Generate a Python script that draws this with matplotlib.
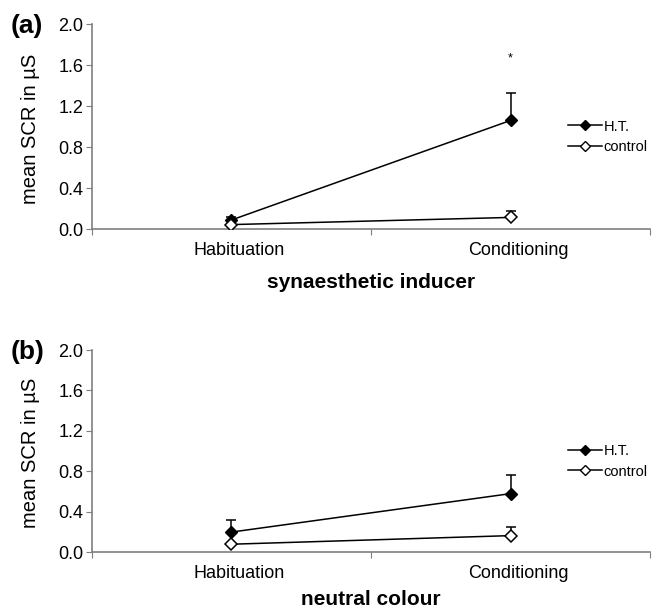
import matplotlib.pyplot as plt
from matplotlib.lines import Line2D

plt.rcParams['font.family'] = ['Liberation Sans', 'DejaVu Sans']

categories = ['Habituation', 'Conditioning']
groups = ['H.T.', 'control']

# panel (a) synaesthetic inducer
a_ht = [0.09, 1.06]
a_ht_err = [0.03, 0.27]
a_ctrl = [0.045, 0.115]
a_ctrl_err = [0.01, 0.065]

# panel (b) neutral colour
b_ht = [0.20, 0.58]
b_ht_err = [0.12, 0.18]
b_ctrl = [0.08, 0.165]
b_ctrl_err = [0.0, 0.085]

yticks = [0.0, 0.4, 0.8, 1.2, 1.6, 2.0]
grey = '#7f7f7f'

fig = plt.figure(figsize=(6.52, 6.08), dpi=100)


def panel(rect, ht, ht_err, ctrl, ctrl_err, letter, xlabel, star=None, leg_y=0.45, xlpad=6):
    ax = fig.add_axes(rect)
    x = [0.5, 1.5]
    ax.errorbar(x, ht, yerr=[[0, 0], ht_err], color='k', lw=1.1, marker='D', ms=6.5,
                mfc='k', mec='k', capsize=3.5, elinewidth=1.1, capthick=1.1, label=groups[0], zorder=3)
    ax.errorbar(x, ctrl, yerr=[[0, 0], ctrl_err], color='k', lw=1.1, marker='D', ms=6.5,
                mfc='white', mec='k', mew=1.1, capsize=3.5, elinewidth=1.1, capthick=1.1, label=groups[1], zorder=3)
    if star is not None:
        ax.text(1.5, star, '*', ha='center', va='center', fontsize=9)
    ax.set_xlim(0, 2)
    ax.set_ylim(0, 2.0)
    ax.set_yticks(yticks)
    ax.set_yticklabels(['%.1f' % v for v in yticks], fontsize=13)
    ax.set_xticks([0, 1, 2])
    ax.set_xticklabels([])
    # category labels sit a little right of the points
    ax.set_xticks([v + 0.027 for v in x], minor=True)
    ax.set_xticklabels(categories, minor=True, fontsize=13)
    ax.tick_params(axis='x', which='minor', length=0, pad=9)
    ax.tick_params(axis='x', which='major', length=4, color=grey)
    ax.tick_params(axis='y', length=4, color=grey, pad=2)
    for s in ['top', 'right']:
        ax.spines[s].set_visible(False)
    for s in ['left', 'bottom']:
        ax.spines[s].set_color(grey)
        ax.spines[s].set_linewidth(1.2)
    ax.set_ylabel('mean SCR in \u00b5S', fontsize=14.5)
    ax.yaxis.set_label_coords(-0.093, 0.49)
    ax.set_xlabel(xlabel, fontsize=15, fontweight='bold', labelpad=xlpad)
    handles = [Line2D([], [], color='k', lw=1.1, marker='D', ms=5, mfc='k', mec='k'),
               Line2D([], [], color='k', lw=1.1, marker='D', ms=5, mfc='white', mec='k')]
    ax.legend(handles, groups, loc='center left', bbox_to_anchor=(0.853, leg_y), frameon=False,
              fontsize=10.5, borderpad=0, borderaxespad=0, handlelength=2.3, handletextpad=0.15,
              labelspacing=0.45)
    pos = ax.get_position()
    fig.text(0.016, pos.y1 - 0.003, letter, fontsize=19, fontweight='bold', va='center', ha='left')
    return ax


panel([0.141, 0.623, 0.856, 0.3375], a_ht, a_ht_err, a_ctrl, a_ctrl_err, '(a)',
      'synaesthetic inducer', star=1.66, leg_y=0.45, xlpad=10)
panel([0.141, 0.0916, 0.856, 0.3327], b_ht, b_ht_err, b_ctrl, b_ctrl_err, '(b)',
      'neutral colour', leg_y=0.45, xlpad=6)

fig.savefig('out.png', dpi=100)
